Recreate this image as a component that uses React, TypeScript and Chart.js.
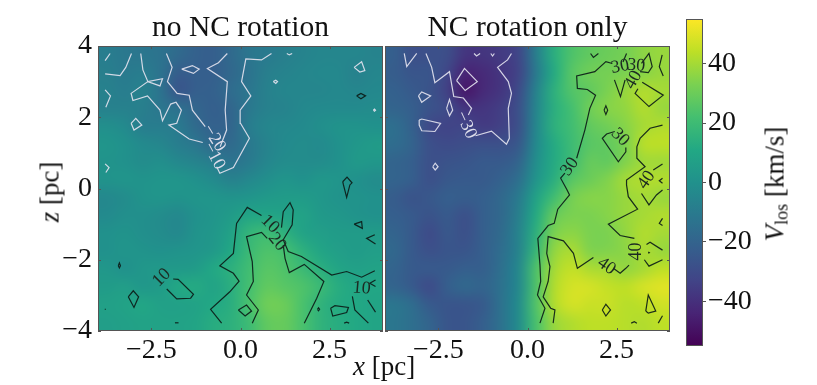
import React, { useEffect, useRef } from "react";
import { Chart, registerables } from "chart.js";

Chart.register(...registerables);

const FONT = '"Liberation Serif", serif';
const M = "\u2212";

const xCentres = [-3.75, -3.25, -2.75, -2.25, -1.75, -1.25, -0.75, -0.25, 0.25, 0.75, 1.25, 1.75, 2.25, 2.75, 3.25, 3.75];
const zCentres = [3.75, 3.25, 2.75, 2.25, 1.75, 1.25, 0.75, 0.25, -0.25, -0.75, -1.25, -1.75, -2.25, -2.75, -3.25, -3.75];
const xTicks = [-2.5, 0, 2.5];
const xTickLabels = [M + "2.5", "0.0", "2.5"];
const zTicks = [-4, -2, 0, 2, 4];
const zTickLabels = [M + "4", M + "2", "0", "2", "4"];
const cbarTicks = [-40, -20, 0, 20, 40];
const cbarTickLabels = [M + "40", M + "20", "0", "20", "40"];
const viridis = ["#440154", "#482475", "#414487", "#355f8d", "#2a788e", "#21918c", "#22a884", "#44bf70", "#7ad151", "#bddf26", "#fde725"];
const vMin = -55;
const vMax = 55;

const noRotation = [
  [-9, -11, -12, -13, -17, -21, -22, -17, -12, -10, -8, -6, -5, -5, -5, -6],
  [-8, -10, -9, -13, -23, -22, -22, -18, -13, -8, -6, -5, -4, -4, -7, -5],
  [-7, -9, -7, -13, -26, -22, -21, -16, -12, -7, -5, -5, -5, -4, -5, -4],
  [-7, -7, -8, -12, -14, -19, -22, -19, -11, -7, -6, -4, -3, -3, -3, -2],
  [-1, -3, -9, -9, -10, -17, -21, -19, -9, -5, -4, -3, -1, 1, 1, 0],
  [2, 0, -3, -5, -9, -12, -18, -17, -11, -6, -3, -2, -3, 0, 3, 5],
  [1, 0, -2, -1, -4, -6, -9, -13, -10, -5, -2, -2, -2, 0, 4, 3],
  [1, 2, 1, 2, 2, 0, -3, -7, -4, -1, 2, 0, 3, 2, 0, -2],
  [-4, -2, 1, 2, 1, 2, 2, 1, 2, 4, 5, 5, 3, 1, 1, 0],
  [-3, -1, -1, -2, -4, 0, 2, 5, 9, 9, 8, 8, 4, 3, 1, 0],
  [0, 1, -1, -2, -4, 1, 3, 8, 17, 20, 15, 8, 6, 5, 5, 5],
  [0, 2, 1, 0, 1, 2, 4, 11, 19, 24, 22, 15, 9, 6, 5, 6],
  [3, 0, 3, 4, 4, 5, 11, 15, 21, 26, 24, 19, 14, 9, 7, 8],
  [5, 6, 3, 5, 11, 12, 8, 14, 22, 28, 26, 24, 19, 13, 10, 10],
  [7, 8, 10, 7, 7, 8, 11, 14, 23, 31, 30, 23, 16, 12, 11, 9],
  [6, 7, 8, 8, 8, 9, 13, 15, 20, 28, 29, 23, 16, 13, 11, 9],
];

const rotationOnly = [
  [-22, -28, -28, -29, -38, -38, -36, -32, -8, 14, 24, 28, 30, 32, 36, 38],
  [-23, -26, -26, -32, -44, -42, -38, -33, -10, 12, 26, 31, 32, 33, 35, 38],
  [-21, -24, -27, -34, -48, -42, -38, -30, -6, 15, 25, 28, 33, 38, 42, 40],
  [-20, -22, -27, -30, -38, -38, -35, -28, -5, 14, 22, 31, 35, 37, 42, 38],
  [-15, -21, -31, -33, -32, -36, -34, -28, -4, 15, 21, 28, 31, 35, 40, 42],
  [-16, -20, -28, -30, -29, -28, -28, -25, -3, 12, 20, 26, 28, 33, 43, 44],
  [-20, -22, -28, -27, -26, -24, -24, -20, -1, 12, 20, 29, 28, 34, 39, 39],
  [-20, -22, -28, -25, -24, -24, -21, -15, 2, 14, 26, 30, 34, 40, 42, 42],
  [-23, -27, -25, -22, -23, -22, -18, -10, 8, 21, 32, 35, 35, 38, 40, 38],
  [-22, -24, -27, -24, -28, -22, -18, -8, 12, 29, 33, 33, 35, 38, 40, 42],
  [-20, -24, -30, -25, -28, -22, -17, -6, 15, 33, 36, 33, 33, 37, 42, 40],
  [-18, -24, -28, -26, -26, -22, -16, -6, 18, 37, 41, 34, 34, 36, 41, 38],
  [-20, -24, -24, -24, -22, -22, -15, -4, 24, 40, 45, 41, 40, 37, 40, 44],
  [-20, -24, -30, -22, -18, -20, -14, -4, 24, 42, 48, 48, 45, 44, 48, 50],
  [-12, -16, -24, -26, -26, -24, -14, -2, 25, 42, 48, 46, 46, 43, 44, 47],
  [-12, -15, -20, -26, -26, -22, -14, -2, 23, 38, 42, 44, 44, 43, 42, 44],
];

const leftLight = [
  [[-3.8, 3.59], [-3.66, 3.79]],
  [[-3.8, 3.22], [-3.38, 3.17], [-3.22, 3.4], [-3.06, 3.79]],
  [[-2.8, 3.79], [-2.74, 3.33], [-2.6, 3.0], [-2.19, 3.08], [-2.26, 2.88], [-2.6, 3.0], [-3.07, 2.67], [-3.02, 2.47], [-2.61, 2.6], [-2.26, 2.2], [-2.19, 1.9], [-1.96, 2.37], [-1.81, 2.42], [-1.66, 2.2], [-1.79, 1.83], [-2.01, 1.78], [-1.44, 1.39], [-1.06, 1.29]],
  [[-3.8, 2.77], [-3.65, 2.6], [-3.78, 2.28]],
  [[-3.07, 1.83], [-2.94, 1.97], [-2.77, 1.78], [-2.99, 1.64], [-3.07, 1.83]],
  [[-3.8, 0.69], [-3.69, 0.59], [-3.78, 0.45]],
  [[-2.08, 3.79], [-1.92, 3.4], [-2.05, 3.0], [-1.78, 2.67], [-1.44, 2.62], [-1.35, 2.2], [-0.99, 1.74]],
  [[-0.37, 3.79], [-0.62, 3.53], [-0.93, 3.37], [-0.37, 3.0], [-0.43, 2.2], [-0.39, 1.64], [-0.57, 1.17]],
  [[-1.65, 3.35], [-1.35, 3.45], [-1.16, 3.35], [-1.32, 3.23], [-1.65, 3.35]],
  [[-0.67, 0.61], [-0.58, 0.43], [-0.2, 0.59], [0.25, 1.41], [0.0, 1.83], [-0.01, 2.2], [0.29, 2.6], [0.03, 3.0], [0.15, 3.64], [0.59, 3.61], [0.87, 3.79]],
  [[1.3, 3.79], [1.37, 3.75], [1.45, 3.79]],
  [[0.92, 3.0], [0.99, 3.04], [1.04, 3.0], [0.99, 2.95], [0.92, 3.0]],
  [[3.19, 3.4], [3.4, 3.56], [3.49, 3.31], [3.35, 3.27], [3.19, 3.4]],
  [[3.73, 2.2], [3.76, 2.23], [3.79, 2.2], [3.76, 2.17], [3.73, 2.2]],
];

const leftDark = [
  [[3.26, 2.6], [3.38, 2.67], [3.51, 2.6], [3.38, 2.52], [3.26, 2.6]],
  [[2.87, 0.19], [2.99, 0.32], [3.13, 0.16], [3.07, 0.1], [2.98, -0.25], [2.89, 0.1], [2.87, 0.19]],
  [[-3.43, -2.17], [-3.4, -2.09], [-3.37, -2.17], [-3.4, -2.23], [-3.43, -2.17]],
  [[-3.15, -3.04], [-3.01, -2.87], [-2.86, -3.04], [-2.99, -3.34], [-3.15, -3.04]],
  [[-1.89, -2.54], [-1.75, -2.55], [-1.32, -2.97], [-1.4, -3.08], [-1.79, -3.1], [-2.07, -2.82]],
  [[-1.84, -3.77], [-1.74, -3.77]],
  [[-3.81, -3.39], [-3.78, -3.39]],
  [[-0.53, -3.78], [-0.84, -3.39], [-0.3, -2.9], [-0.04, -2.6], [-0.2, -2.38], [-0.58, -2.17], [-0.2, -1.82], [-0.11, -0.98], [0.19, -0.53], [0.59, -0.76]],
  [[1.15, -1.1], [1.2, -0.65], [1.39, -0.4], [1.48, -0.6], [1.45, -1.02], [1.2, -1.44], [1.34, -1.77], [1.71, -1.91], [2.56, -2.43], [2.98, -2.33], [3.4, -2.49], [3.77, -2.31]],
  [[0.33, -3.78], [0.5, -3.41], [0.17, -2.99], [0.36, -2.61], [0.33, -2.05], [0.17, -1.35], [0.59, -1.23], [0.75, -1.4]],
  [[1.2, -1.59], [1.25, -1.96], [1.37, -2.36], [1.79, -2.13], [2.34, -2.61], [2.14, -3.08], [1.79, -3.78]],
  [[-0.06, -3.41], [0.17, -3.27], [0.31, -3.44], [0.13, -3.58], [-0.06, -3.41]],
  [[2.16, -3.39], [2.19, -3.35], [2.22, -3.39], [2.19, -3.43], [2.16, -3.39]],
  [[2.53, -3.36], [2.65, -3.29], [3.03, -3.34], [2.98, -3.48], [2.59, -3.58], [2.53, -3.36]],
  [[3.19, -1.0], [3.4, -0.93], [3.42, -1.12], [3.19, -1.0]],
  [[3.77, -1.3], [3.54, -1.4], [3.79, -1.56]],
  [[3.79, -2.57], [3.63, -2.66], [3.79, -2.75]],
  [[3.14, -3.03], [3.21, -3.41], [3.59, -3.78]],
  [[3.57, -3.13], [3.79, -3.47]],
  [[2.91, -3.78], [2.98, -3.75], [3.05, -3.78]],
];

const rightLight = [
  [[-3.46, 3.79], [-3.39, 3.42], [-3.11, 3.79]],
  [[-2.85, 3.79], [-2.69, 3.4], [-2.6, 2.97], [-2.19, 3.28], [-2.07, 2.58], [-1.8, 2.54], [-1.57, 2.25], [-1.66, 2.06]],
  [[-1.46, 1.48], [-1.01, 1.61], [-0.59, 1.24], [-0.51, 1.41], [-0.54, 2.25], [-0.45, 2.67], [-0.54, 3.0], [-0.84, 3.4], [-0.56, 3.61], [-0.45, 3.79]],
  [[-1.5, 3.79], [-1.43, 3.72], [-1.33, 3.79]],
  [[-1.03, 3.79], [-0.98, 3.72], [-0.93, 3.79]],
  [[-1.99, 3.03], [-1.77, 3.37], [-1.41, 3.0], [-1.75, 2.75], [-1.99, 3.03]],
  [[-3.06, 2.6], [-2.97, 2.71], [-2.72, 2.6], [-2.97, 2.42], [-3.06, 2.6]],
  [[-2.27, 2.25], [-2.19, 2.5], [-2.1, 2.2], [-2.19, 2.04], [-2.27, 2.25]],
  [[-3.04, 1.92], [-2.97, 1.95], [-2.44, 1.83], [-2.6, 1.6], [-2.97, 1.62], [-3.04, 1.78], [-3.04, 1.92]],
  [[-2.66, 0.61], [-2.59, 0.71], [-2.51, 0.61], [-2.59, 0.52], [-2.66, 0.61]],
];

const rightDark = [
  [[1.77, 3.79], [1.85, 3.68], [1.99, 3.79]],
  [[1.38, 0.85], [1.61, 1.64], [1.75, 2.25], [1.91, 2.62], [1.68, 2.78], [1.4, 2.81], [1.38, 3.16], [1.89, 3.28], [2.2, 3.56], [2.38, 3.51]],
  [[2.68, 3.55], [2.78, 3.79]],
  [[2.44, 3.05], [2.61, 2.58], [2.74, 3.05]],
  [[3.2, 3.51], [3.41, 3.79], [3.5, 3.42], [3.39, 3.25], [3.16, 3.28]],
  [[3.78, 3.75], [3.7, 3.42], [3.81, 3.16]],
  [[3.22, 2.98], [3.81, 2.62], [3.41, 2.3], [3.02, 2.67], [3.1, 2.8]],
  [[2.15, 2.2], [2.2, 2.32], [2.25, 2.2], [2.2, 2.08], [2.15, 2.2]],
  [[2.45, 1.6], [2.22, 1.53], [2.1, 1.41], [2.55, 0.75], [2.76, 1.03], [2.76, 1.15]],
  [[3.79, 1.78], [3.44, 1.69], [3.16, 1.41], [3.07, 1.17], [3.07, 0.85], [3.3, 0.61], [2.78, 0.24], [2.78, 0.1], [2.83, -0.23], [3.09, -0.58], [2.27, -1.0], [2.6, -1.32], [3.0, -1.4]],
  [[2.85, -2.15], [2.76, -2.24], [2.6, -2.38], [2.41, -2.24]],
  [[1.85, -1.94], [1.4, -2.24], [1.29, -1.82], [1.01, -1.47], [0.58, -1.35], [0.54, -1.82], [0.63, -2.19], [0.58, -2.61], [0.44, -3.04], [0.65, -3.36], [0.77, -3.41], [0.72, -3.78]],
  [[1.05, 0.43], [0.93, 0.29], [1.1, -0.02], [1.18, -0.18], [0.85, -0.58], [0.75, -0.98], [0.58, -1.04], [0.29, -1.4], [0.35, -2.15], [0.37, -2.61], [0.28, -2.99], [0.49, -3.36], [0.35, -3.78]],
  [[3.53, 0.52], [3.79, 0.69]],
  [[3.2, -0.14], [3.41, -0.46], [3.62, -0.18], [3.79, -0.04]],
  [[3.79, 0.29], [3.7, 0.22], [3.79, 0.15]],
  [[3.79, -0.84], [3.7, -0.98], [3.79, -1.04]],
  [[3.34, -1.57], [3.44, -1.51], [3.79, -1.73]],
  [[3.28, -2.0], [3.41, -2.18], [3.79, -2.0]],
  [[3.39, -1.78], [3.42, -1.8], [3.39, -1.82]],
  [[3.32, -3.44], [3.39, -2.99], [3.6, -3.44], [3.39, -3.5], [3.32, -3.44]],
  [[2.1, -3.41], [2.2, -3.25], [2.33, -3.41], [2.2, -3.58], [2.1, -3.41]],
  [[2.91, -3.78], [3.0, -3.74], [3.07, -3.78]],
  [[3.67, -3.78], [3.79, -3.57]],
];

// [x, z, text, rotation in degrees, light?]
const leftContourLabels = [
  [-0.74, 1.41, M + "20", 58, true],
  [-0.74, 0.91, M + "10", 62, true],
  [0.83, -1.0, "10", 45, false],
  [1.03, -1.5, "20", 50, false],
  [3.4, -2.8, "10", 5, false],
  [-2.21, -2.5, "10", -45, false],
];
const rightContourLabels = [
  [-1.73, 1.78, M + "30", 65, true],
  [2.6, 3.42, "30", -10, false],
  [3.05, 3.45, "30", 5, false],
  [2.97, 3.05, "40", -60, false],
  [2.6, 1.44, "30", 45, false],
  [1.19, 0.61, "30", -55, false],
  [3.34, 0.24, "40", -55, false],
  [2.22, -2.18, "40", 35, false],
  [3.06, -1.77, "40", -90, false],
];

function hexRgb(h: string) {
  return [1, 3, 5].map((i) => parseInt(h.slice(i, i + 2), 16));
}
function colorFor(v: number) {
  const t = Math.max(0, Math.min(1, (v - vMin) / (vMax - vMin))) * (viridis.length - 1);
  const i = Math.min(viridis.length - 2, Math.floor(t));
  const a = hexRgb(viridis[i]);
  const b = hexRgb(viridis[i + 1]);
  return a.map((c, k) => Math.round(c + (b[k] - c) * (t - i)));
}

function panelPlugin(matrix: number[][], labels: any[]) {
  return {
    id: "panel",
    beforeDatasetsDraw(chart: any) {
      const { ctx, chartArea: a, scales } = chart;
      const n = zCentres.length;
      const m = xCentres.length;
      const off = document.createElement("canvas");
      off.width = m;
      off.height = n;
      const oc = off.getContext("2d")!;
      const img = oc.createImageData(m, n);
      matrix.forEach((row, r) =>
        row.forEach((v, c) => {
          const [R, G, B] = colorFor(v);
          const o = (r * m + c) * 4;
          img.data[o] = R;
          img.data[o + 1] = G;
          img.data[o + 2] = B;
          img.data[o + 3] = 255;
        })
      );
      oc.putImageData(img, 0, 0);
      const x0 = scales.x.getPixelForValue(-4);
      const x1 = scales.x.getPixelForValue(4);
      const y0 = scales.y.getPixelForValue(4);
      const y1 = scales.y.getPixelForValue(-4);
      ctx.save();
      ctx.beginPath();
      ctx.rect(a.left, a.top, a.width, a.height);
      ctx.clip();
      ctx.imageSmoothingEnabled = true;
      ctx.imageSmoothingQuality = "high";
      ctx.drawImage(off, x0, y0, x1 - x0, y1 - y0);
      ctx.restore();
    },
    afterDatasetsDraw(chart: any) {
      const { ctx, chartArea: a, scales } = chart;
      ctx.save();
      ctx.textAlign = "center";
      ctx.textBaseline = "middle";
      ctx.font = `18px ${FONT}`;
      labels.forEach(([x, z, text, rot, light]) => {
        ctx.save();
        ctx.translate(scales.x.getPixelForValue(x), scales.y.getPixelForValue(z));
        ctx.rotate((rot * Math.PI) / 180);
        ctx.fillStyle = light ? "#dcdcea" : "#1c2a22";
        ctx.fillText(text, 0, 0);
        ctx.restore();
      });
      ctx.strokeStyle = "#555";
      ctx.lineWidth = 1;
      ctx.beginPath();
      xTicks.forEach((t) => {
        const p = Math.round(scales.x.getPixelForValue(t)) + 0.5;
        ctx.moveTo(p, a.top);
        ctx.lineTo(p, a.top + 3);
        ctx.moveTo(p, a.bottom);
        ctx.lineTo(p, a.bottom - 3);
      });
      zTicks.forEach((t) => {
        const p = Math.round(scales.y.getPixelForValue(t)) + 0.5;
        ctx.moveTo(a.left, p);
        ctx.lineTo(a.left + 3, p);
        ctx.moveTo(a.right, p);
        ctx.lineTo(a.right - 3, p);
      });
      ctx.stroke();
      ctx.strokeRect(a.left + 0.5, a.top + 0.5, a.width - 1, a.height - 1);
      ctx.restore();
    },
  };
}

function makePanel(canvas: HTMLCanvasElement, title: string, matrix: number[][], light: number[][][], dark: number[][][], labels: any[], isLeft: boolean) {
  const toSet = (c: number[][], color: string) => ({
    type: "scatter" as const,
    showLine: true,
    data: c.map(([x, y]) => ({ x, y })),
    borderColor: color,
    borderWidth: 1.2,
    pointRadius: 0,
    tension: 0,
  });
  const heat = {
    type: "scatter" as const,
    data: matrix.flatMap((row, r) => row.map((v, c) => ({ x: xCentres[c], y: zCentres[r], v }))),
    pointRadius: 0,
    showLine: false,
  };
  return new Chart(canvas, {
    type: "scatter",
    data: {
      datasets: [heat, ...light.map((c) => toSet(c, "rgba(226,226,238,0.92)")), ...dark.map((c) => toSet(c, "rgba(12,28,24,0.92)"))] as any,
    },
    plugins: [panelPlugin(matrix, labels)],
    options: {
      responsive: false,
      animation: false,
      events: [],
      layout: { padding: isLeft ? { left: 0, right: 3 } : { left: 5, right: 10 } },
      plugins: {
        legend: { display: false },
        tooltip: { enabled: false },
        title: {
          display: true,
          text: title,
          fullSize: false,
          color: "#111",
          font: { family: FONT, size: 29.5, weight: "normal", lineHeight: 1 },
          padding: { top: 13, bottom: 3.5 },
        } as any,
      },
      scales: {
        x: {
          type: "linear",
          min: -4,
          max: 4,
          afterBuildTicks: (s: any) => {
            s.ticks = xTicks.map((value) => ({ value }));
          },
          afterFit: (s: any) => {
            s.height = 54;
          },
          grid: { display: false, drawTicks: false },
          border: { display: false },
          ticks: {
            autoSkip: false,
            maxRotation: 0,
            padding: 3,
            color: "#111",
            font: { family: FONT, size: 28 },
            callback: (v: any) => xTickLabels[xTicks.indexOf(Number(v))],
          },
        },
        y: {
          type: "linear",
          display: isLeft,
          min: -4,
          max: 4,
          afterBuildTicks: (s: any) => {
            s.ticks = zTicks.map((value) => ({ value }));
          },
          afterFit: (s: any) => {
            s.width = isLeft ? 98 : 0;
          },
          grid: { display: false, drawTicks: false },
          border: { display: false },
          ticks: {
            autoSkip: false,
            padding: 6,
            color: "#111",
            font: { family: FONT, size: 28 },
            callback: (v: any) => zTickLabels[zTicks.indexOf(Number(v))],
          },
        },
      } as any,
    },
  });
}

const colorbarPlugin = {
  id: "colorbar",
  beforeDatasetsDraw(chart: any) {
    const { ctx, chartArea: a, scales } = chart;
    const g = ctx.createLinearGradient(0, scales.y.getPixelForValue(vMin), 0, scales.y.getPixelForValue(vMax));
    viridis.forEach((c, i) => g.addColorStop(i / (viridis.length - 1), c));
    ctx.save();
    ctx.fillStyle = g;
    ctx.fillRect(a.left, a.top, a.width, a.height);
    ctx.strokeStyle = "#555";
    ctx.lineWidth = 1;
    ctx.strokeRect(a.left + 0.5, a.top + 0.5, a.width - 1, a.height - 1);
    ctx.restore();
  },
};

function makeColorbar(canvas: HTMLCanvasElement) {
  return new Chart(canvas, {
    type: "scatter",
    data: { datasets: [{ data: [{ x: 0, y: vMin }, { x: 0, y: vMax }], pointRadius: 0 }] },
    plugins: [colorbarPlugin],
    options: {
      responsive: false,
      animation: false,
      events: [],
      layout: { padding: { left: 6, right: 0, top: 19, bottom: 39 } },
      plugins: { legend: { display: false }, tooltip: { enabled: false } },
      scales: {
        x: { display: false, min: -1, max: 1 },
        y: {
          type: "linear",
          position: "right",
          min: vMin,
          max: vMax,
          afterBuildTicks: (s: any) => {
            s.ticks = cbarTicks.map((value) => ({ value }));
          },
          afterFit: (s: any) => {
            s.width = 114;
          },
          grid: { drawOnChartArea: false, tickLength: 3, color: "#555" },
          border: { display: false },
          ticks: {
            autoSkip: false,
            padding: 2,
            color: "#111",
            font: { family: FONT, size: 28 },
            callback: (v: any) => cbarTickLabels[cbarTicks.indexOf(Number(v))],
          },
        },
      } as any,
    },
  });
}

const labelStyle: React.CSSProperties = {
  position: "absolute",
  fontFamily: FONT,
  fontSize: 27,
  color: "#111",
  whiteSpace: "nowrap",
  lineHeight: 1,
};

export default function App() {
  const leftRef = useRef<HTMLCanvasElement>(null);
  const rightRef = useRef<HTMLCanvasElement>(null);
  const barRef = useRef<HTMLCanvasElement>(null);
  useEffect(() => {
    const charts = [
      makePanel(leftRef.current!, "no NC rotation", noRotation, leftLight, leftDark, leftContourLabels, true),
      makePanel(rightRef.current!, "NC rotation only", rotationOnly, rightLight, rightDark, rightContourLabels, false),
      makeColorbar(barRef.current!),
    ];
    return () => charts.forEach((c) => c.destroy());
  }, []);
  return (
    <div style={{ position: "absolute", left: 0, top: 0, width: 817, height: 385, overflow: "hidden", background: "#fff" }}>
      <canvas ref={leftRef} width={386} height={385} style={{ position: "absolute", left: 0, top: 0 }} />
      <canvas ref={rightRef} width={300} height={385} style={{ position: "absolute", left: 380, top: 0 }} />
      <canvas ref={barRef} width={137} height={385} style={{ position: "absolute", left: 680, top: 0 }} />
      <div style={{ ...labelStyle, left: 353, top: 353 }}>
        <i>x</i> [pc]
      </div>
      <div style={{ ...labelStyle, left: 50, top: 192, transform: "translate(-50%,-50%) rotate(-90deg)" }}>
        <i>z</i> [pc]
      </div>
      <div style={{ ...labelStyle, left: 775, top: 184, transform: "translate(-50%,-50%) rotate(-90deg)" }}>
        <i>V</i>
        <span style={{ fontSize: 18, position: "relative", top: 4 }}>los</span> [km/s]
      </div>
    </div>
  );
}
